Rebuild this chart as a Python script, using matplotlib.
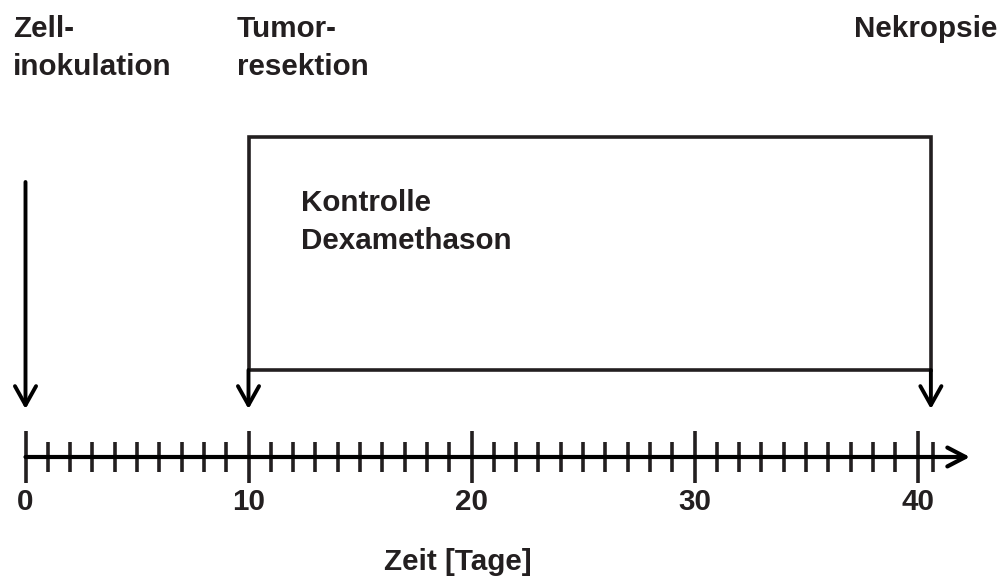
import matplotlib
matplotlib.use("Agg")
import matplotlib.pyplot as plt
from matplotlib.patches import Rectangle

plt.rcParams['font.family'] = ['Liberation Sans', 'DejaVu Sans']

# ---- data ----
event_days = [0, 10, 40.6]
event_labels = ["Zell-\ninokulation", "Tumor-\nresektion", "Nekropsie"]
treatment_start = 10
treatment_end = 40.6
groups = ["Kontrolle", "Dexamethason"]
major_ticks = [0, 10, 20, 30, 40]
minor_ticks = list(range(0, 41)) + [40.7]
axis_end = 42.35
xlabel = "Zeit [Tage]"

# ---- layout ----
W, H = 1000, 577
px_per_day = 22.3
x0_px = 25.5
fig = plt.figure(figsize=(W / 100, H / 100), dpi=100)
ax = fig.add_axes([0, 0, 1, 1])
ax.set_xlim(-x0_px / px_per_day, (W - x0_px) / px_per_day)
ax.set_ylim(H, 0)
ax.axis('off')

ink = '#231f20'
fs = 21.3
axis_y = 457
line_gap = 38

# time axis with arrow
ax.annotate('', xy=(axis_end, axis_y), xytext=(0, axis_y),
            arrowprops=dict(arrowstyle='->,head_length=0.65,head_width=0.34',
                            lw=3, color='black', shrinkA=0, shrinkB=0,
                            mutation_scale=20))
for d in minor_ticks:
    half = 26 if d in major_ticks else 15
    ax.plot([d, d], [axis_y - half, axis_y + half], color=ink, lw=2.6,
            solid_capstyle='butt')
for d in major_ticks:
    ax.text(d, 510, str(d), ha='center', va='baseline', fontsize=fs,
            fontweight='bold', color=ink)

ax.text((major_ticks[0] + major_ticks[-1]) / 2 - 0.6, 570, xlabel, ha='center',
        va='baseline', fontsize=fs, fontweight='bold', color=ink)

# treatment box
box_top, box_bottom = 137, 370
ax.add_patch(Rectangle((treatment_start, box_top), treatment_end - treatment_start,
                       box_bottom - box_top, fill=False, edgecolor=ink, lw=2.6))
for i, g in enumerate(groups):
    ax.text(treatment_start + 2.35, 211 + i * line_gap, g, ha='left',
            va='baseline', fontsize=fs, fontweight='bold', color=ink)

# event arrows
arrow_starts = [182, box_bottom, box_bottom]
for d, ys in zip(event_days, arrow_starts):
    ax.annotate('', xy=(d, 409), xytext=(d, ys),
                arrowprops=dict(arrowstyle='->,head_length=0.68,head_width=0.38',
                                lw=2.8, color='black', shrinkA=0, shrinkB=0,
                                mutation_scale=20))

# event labels
label_offsets = [(-0.56, 'left'), (-0.52, 'left'), (2.96, 'right')]
for d, lab, (off, ha) in zip(event_days, event_labels, label_offsets):
    for j, line in enumerate(lab.split('\n')):
        ax.text(d + off, 37 + j * line_gap, line, ha=ha, va='baseline',
                fontsize=fs, fontweight='bold', color=ink)

fig.savefig('out.png', dpi=100)
